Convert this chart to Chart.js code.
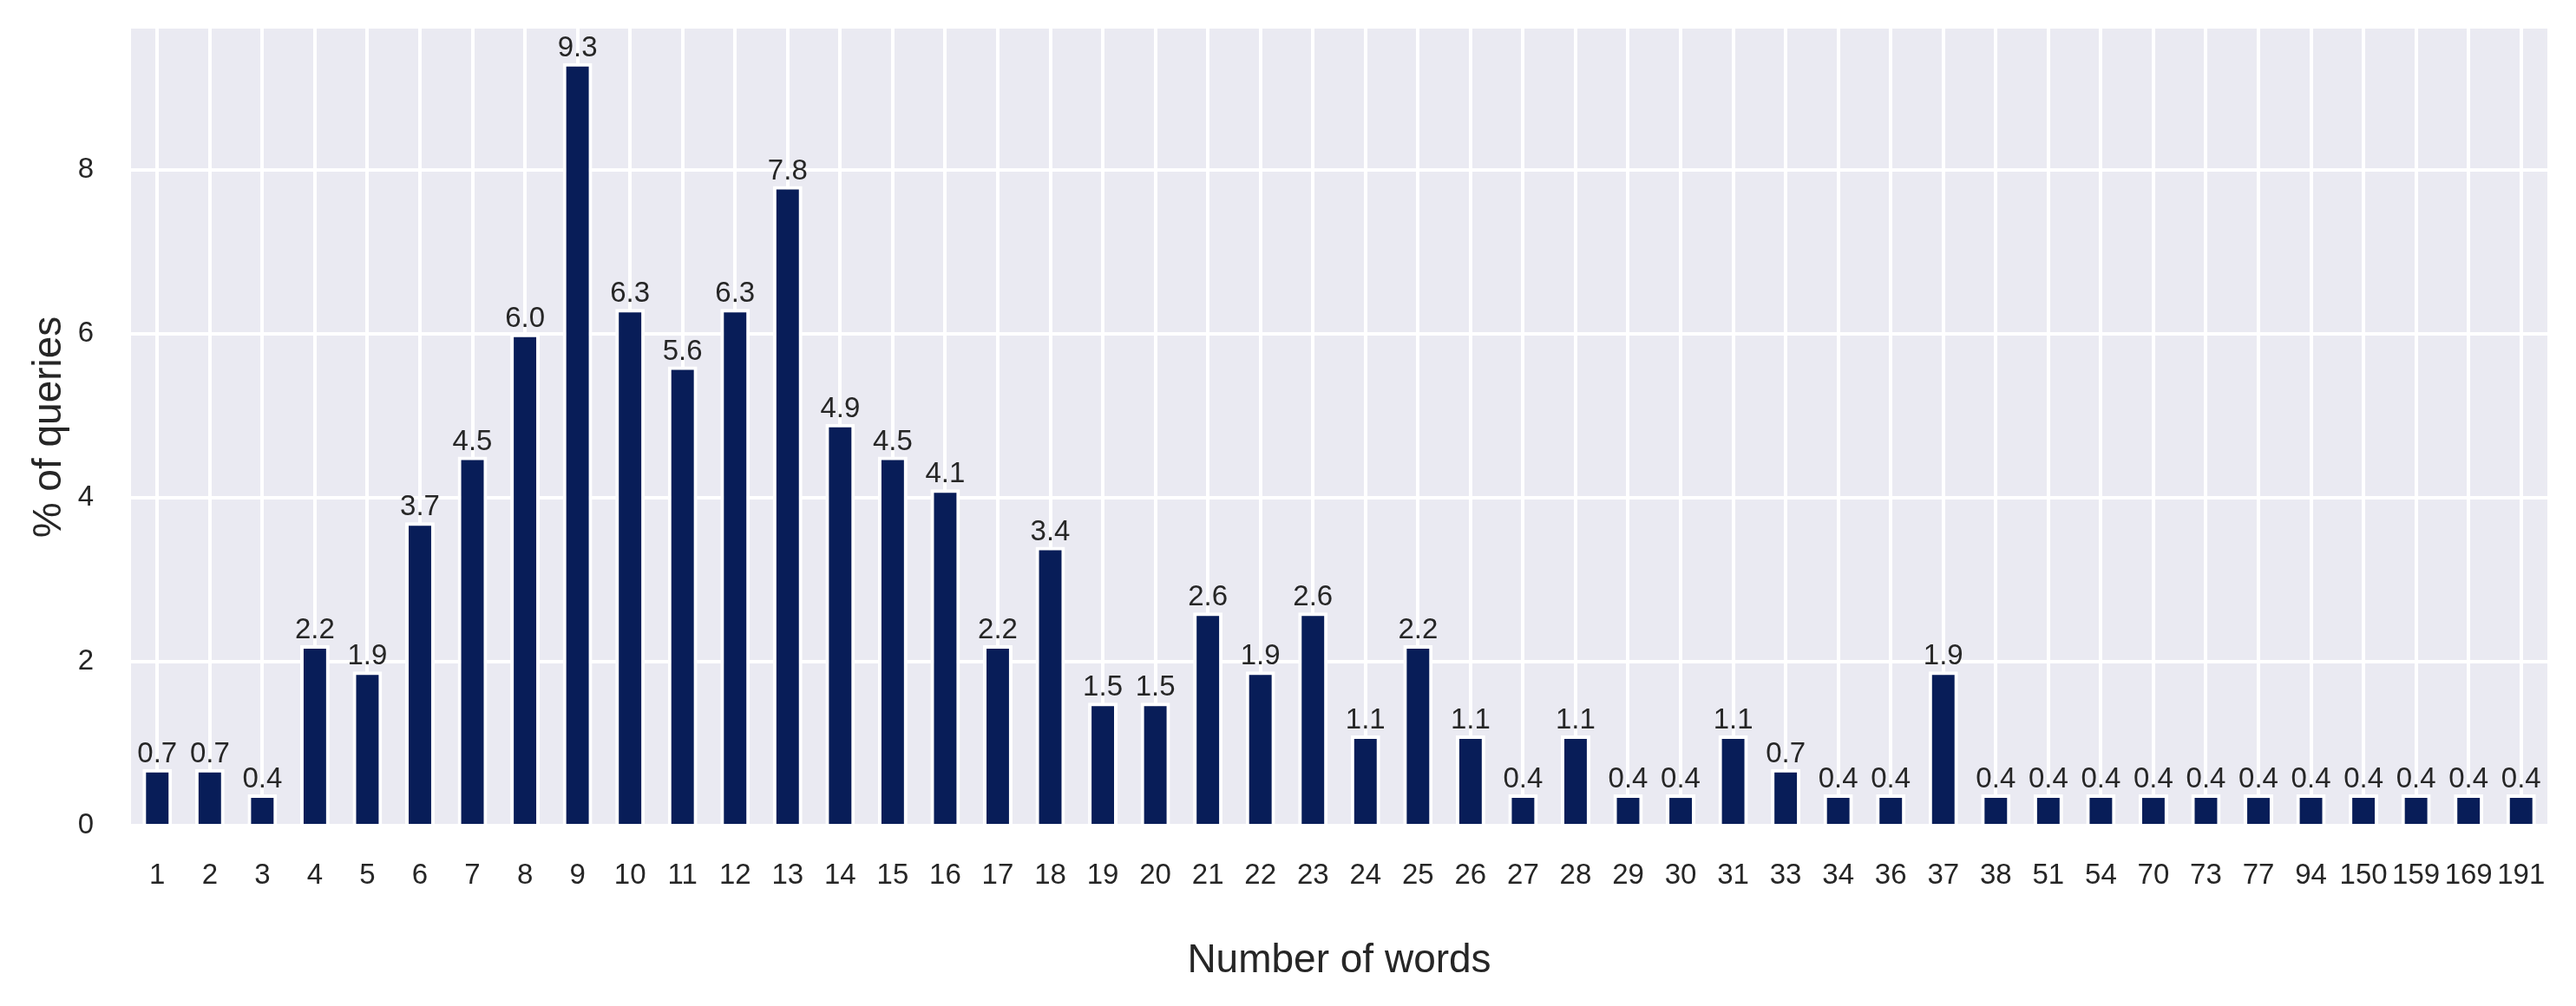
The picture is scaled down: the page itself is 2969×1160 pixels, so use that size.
<!DOCTYPE html>
<html>
<head>
<meta charset="utf-8">
<script src="https://cdn.jsdelivr.net/npm/chart.js@4/dist/chart.umd.min.js"></script>
<style>
  body { margin: 0; background: #ffffff; }
  #wrap { width: 2969px; height: 1160px; }
</style>
</head>
<body>
<div id="wrap"><canvas id="wordsChart" width="2969" height="1160"></canvas></div>
<script>
// 単語数ごとのクエリ割合
const wordCounts = ['1','2','3','4','5','6','7','8','9','10','11','12','13','14','15','16','17','18','19','20',
  '21','22','23','24','25','26','27','28','29','30','31','33','34','36','37','38','51','54','70','73',
  '77','94','150','159','169','191'];
const pctQueries = [0.69,0.69,0.38,2.2,1.88,3.7,4.5,6.0,9.3,6.3,5.6,6.3,7.8,4.9,4.5,4.1,2.2,3.4,1.5,1.5,
  2.6,1.88,2.6,1.1,2.2,1.1,0.38,1.1,0.38,0.38,1.1,0.69,0.38,0.38,1.88,0.38,0.38,0.38,0.38,0.38,
  0.38,0.38,0.38,0.38,0.38,0.38];
const yTicks = [0, 2, 4, 6, 8];

const textColor = '#262626';
const fontFamily = '"Liberation Sans", Arial, sans-serif';

// 背景 (seaborn darkgrid)
const bgPlugin = {
  id: 'bgPlugin',
  beforeDraw(chart) {
    const { ctx, chartArea: a } = chart;
    ctx.save();
    ctx.fillStyle = '#eaeaf2';
    ctx.fillRect(a.left, a.top, a.right - a.left, a.bottom - a.top);
    ctx.restore();
  }
};

// 棒の上の数値ラベル
const labelPlugin = {
  id: 'labelPlugin',
  afterDatasetsDraw(chart) {
    const { ctx } = chart;
    const meta = chart.getDatasetMeta(0);
    ctx.save();
    ctx.font = '33px ' + fontFamily;
    ctx.fillStyle = textColor;
    ctx.textAlign = 'center';
    ctx.textBaseline = 'alphabetic';
    meta.data.forEach((bar, i) => {
      ctx.fillText(pctQueries[i].toFixed(1), bar.x, bar.y - 8);
    });
    ctx.restore();
  }
};

function noPad(scale) {
  scale.paddingTop = 0;
  scale.paddingBottom = 0;
  scale.paddingLeft = 0;
  scale.paddingRight = 0;
}

let myChart;
window.addEventListener('DOMContentLoaded', () => {
  const ctx = document.getElementById('wordsChart').getContext('2d');
  myChart = new Chart(ctx, {
    type: 'bar',
    data: {
      labels: wordCounts,
      datasets: [{
        data: pctQueries,
        backgroundColor: '#081d58',
        borderColor: '#ffffff',
        borderWidth: 4,
        borderSkipped: 'start',
        categoryPercentage: 1.0,
        barPercentage: 0.56
      }]
    },
    options: {
      responsive: false,
      animation: false,
      layout: { padding: { left: 0, right: 33, top: 33, bottom: 0 } },
      plugins: {
        legend: { display: false },
        tooltip: { enabled: false }
      },
      scales: {
        x: {
          grid: { color: '#ffffff', lineWidth: 4, drawTicks: false, offset: false },
          border: { display: false },
          ticks: {
            color: textColor,
            font: { family: fontFamily, size: 33 },
            padding: 38,
            maxRotation: 0,
            autoSkip: false
          },
          title: {
            display: true,
            text: 'Number of words',
            color: textColor,
            font: { family: fontFamily, size: 46 },
            padding: { top: 0, bottom: 24 }
          },
          afterFit(scale) { scale.height = 208; noPad(scale); }
        },
        y: {
          min: 0,
          max: 9.72,
          grid: { color: '#ffffff', lineWidth: 4, drawTicks: false },
          border: { display: false },
          ticks: {
            color: textColor,
            font: { family: fontFamily, size: 33 },
            padding: 43,
            stepSize: 2
          },
          afterBuildTicks(scale) {
            scale.ticks = yTicks.map(v => ({ value: v }));
          },
          title: {
            display: true,
            text: '% of queries',
            color: textColor,
            font: { family: fontFamily, size: 46 },
            padding: { top: 30, bottom: 0 }
          },
          afterFit(scale) { scale.width = 151; noPad(scale); }
        }
      }
    },
    plugins: [bgPlugin, labelPlugin]
  });
});
</script>
</body>
</html>
